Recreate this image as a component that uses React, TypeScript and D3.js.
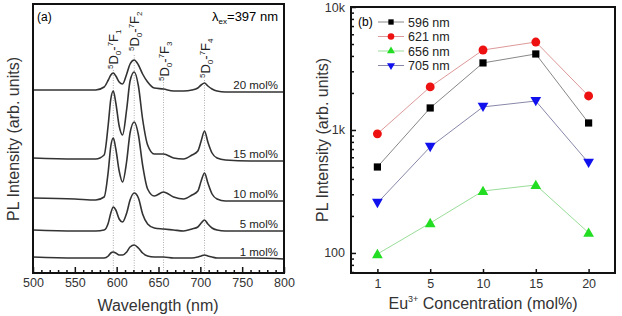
import React, { useRef, useEffect } from 'react';
import * as d3 from 'd3';

// panel (a): emission spectra, sampled along a common wavelength grid
const wavelengths = [500, 550, 575, 585, 590, 593, 596, 599, 603, 607, 612, 616, 621, 626, 631, 637, 645, 656, 668, 680, 690, 697, 701, 705, 709, 714, 720, 730, 760, 800];
const spec1 = [1, 0, 0, 0, 2, 5, 6, 5, 3, 3, 6, 11, 13, 10, 5, 2, 1, 1, 0, 0, 0, 1, 2, 3, 2, 1, 0, 0, 0, -1];
const spec5 = [1, 0, 0, 1, 8, 18, 24, 21, 12, 9, 18, 31, 38, 33, 17, 7, 3, 2, 1, 0, 2, 4, 8, 11, 7, 3, 1, 0, 0, 0];
const spec10 = [3, 2, 1, 4, 30, 55, 63, 52, 30, 19, 40, 68, 79, 66, 36, 12, 5, 9, 4, 2, 6, 10, 20, 28, 18, 7, 2, 0, 0, 0];
const spec15 = [1, 0, 0, 4, 35, 60, 68, 56, 33, 24, 50, 78, 87, 73, 40, 14, 5, 5, 1, 0, 4, 8, 18, 28, 17, 6, 1, -1, -2, -2];
const spec20 = [1, 1, 1, 4, 11, 16, 18, 15, 9, 7, 17, 27, 31, 26, 17, 9, 3, 2, 0, 0, 1, 3, 6, 8, 5, 2, 0, -1, -1, -1];
const specLabels = ['1 mol%', '5 mol%', '10 mol%', '15 mol%', '20 mol%'];
const specOffsets = [15, 42, 72, 114, 182];
const transitions = [596, 621, 656, 705];
const transitionSub = ['1', '2', '3', '4'];

// panel (b): integrated intensities vs concentration
const concentrations = ['1', '5', '10', '15', '20'];
const i596 = [500, 1510, 3510, 4150, 1140];
const i621 = [930, 2240, 4470, 5190, 1890];
const i656 = [98, 175, 319, 357, 146];
const i705 = [255, 728, 1540, 1720, 540];
const seriesNames = ['596 nm', '621 nm', '656 nm', '705 nm'];

const FONT = "'Liberation Sans', Arial, sans-serif";

const App = () => {
  const ref = useRef<SVGSVGElement>(null);

  useEffect(() => {
    const svg = d3.select(ref.current);
    svg.selectAll('*').remove();
    svg.style('font-family', FONT);

    // ---------- panel (a) ----------
    const ax = d3.scaleLinear().domain([500, 800]).range([33, 284]);
    const ay = d3.scaleLinear().domain([0, 269]).range([273, 4]);
    const a = svg.append('g');

    // dotted guide lines
    const guideTop = [70, 55, 82, 80];
    transitions.forEach((t, i) => {
      a.append('line')
        .attr('x1', ax(t)).attr('x2', ax(t))
        .attr('y1', guideTop[i]).attr('y2', 273)
        .attr('stroke', '#999').attr('stroke-width', 0.8)
        .attr('stroke-dasharray', '1,1.5');
    });

    const specs = [spec1, spec5, spec10, spec15, spec20];
    specs.forEach((s, k) => {
      const line = d3.line<number>()
        .x((_, i) => ax(wavelengths[i]))
        .y((d) => ay(d + specOffsets[k]))
        .curve(d3.curveMonotoneX);
      a.append('path')
        .attr('d', line(s))
        .attr('fill', 'none')
        .attr('stroke', '#333')
        .attr('stroke-width', 1.6);
      a.append('text')
        .attr('x', 278)
        .attr('y', ay(specOffsets[k] + s[s.length - 1]) - 3)
        .attr('text-anchor', 'end')
        .style('font-size', '11.5px')
        .attr('fill', '#222')
        .text(specLabels[k]);
    });

    // transition labels (rotated)
    const labelBottom = [69, 51, 81, 78];
    transitions.forEach((t, i) => {
      const txt = a.append('text')
        .attr('transform', `translate(${ax(t) + 5},${labelBottom[i]}) rotate(-90)`)
        .style('font-size', '13px')
        .attr('fill', '#222');
      txt.append('tspan').style('font-size', '8px').attr('dy', -5).text('5');
      txt.append('tspan').attr('dy', 5).text('D');
      txt.append('tspan').style('font-size', '8px').attr('dy', 3).text('0');
      txt.append('tspan').attr('dy', -3).text('-');
      txt.append('tspan').style('font-size', '8px').attr('dy', -5).text('7');
      txt.append('tspan').attr('dy', 5).text('F');
      txt.append('tspan').style('font-size', '8px').attr('dy', 3).text(transitionSub[i]);
    });

    // axes
    const aMajor = d3.axisBottom(ax).tickValues(d3.range(500, 801, 50)).tickSize(-6).tickPadding(5);
    const aMinor = d3.axisBottom(ax).tickValues(d3.range(510, 800, 10).filter((v) => v % 50 !== 0)).tickSize(-3).tickFormat(() => '');
    const gMinor = a.append('g').attr('transform', 'translate(0,273)').call(aMinor);
    const gMajor = a.append('g').attr('transform', 'translate(0,273)').call(aMajor);
    [gMinor, gMajor].forEach((g) => {
      g.select('.domain').remove();
      g.selectAll('line').attr('stroke', '#111').attr('stroke-width', 1.5);
    });
    gMajor.selectAll('text').style('font-size', '12.5px').style('font-family', FONT).attr('fill', '#333');

    a.append('rect')
      .attr('x', 33).attr('y', 4).attr('width', 251).attr('height', 269)
      .attr('fill', 'none').attr('stroke', '#111').attr('stroke-width', 2);

    a.append('text').attr('x', 37).attr('y', 21).style('font-size', '12px').text('(a)');
    const lam = a.append('text').attr('x', 278).attr('y', 21).attr('text-anchor', 'end').style('font-size', '13px');
    lam.append('tspan').text('λ');
    lam.append('tspan').style('font-size', '8px').attr('dy', 3).text('ex');
    lam.append('tspan').attr('dy', -3).text('=397 nm');

    a.append('text')
      .attr('x', 158).attr('y', 311)
      .attr('text-anchor', 'middle')
      .style('font-size', '16px').attr('fill', '#333')
      .text('Wavelength (nm)');
    a.append('text')
      .attr('transform', 'translate(19,139) rotate(-90)')
      .attr('text-anchor', 'middle')
      .style('font-size', '16px').attr('fill', '#333')
      .text('PL Intensity (arb. units)');

    // ---------- panel (b) ----------
    const bx = d3.scalePoint().domain(concentrations).range([351, 615]).padding(0.5);
    const by = d3.scaleLog().domain([68.7, 10000]).range([273, 7]);
    const b = svg.append('g');

    const series = [i596, i621, i656, i705];
    const lineColors = ['#888', '#d99', '#9d9', '#88a'];
    const markColors = ['#000', '#ee1111', '#22dd22', '#1111ee'];
    const symbols = [d3.symbolSquare, d3.symbolCircle, d3.symbolTriangle, d3.symbolTriangle];
    const sizes = [52, 62, 50, 50];

    series.forEach((s, k) => {
      const line = d3.line<number>()
        .x((_, i) => bx(concentrations[i]) as number)
        .y((d) => by(d));
      b.append('path').attr('d', line(s)).attr('fill', 'none')
        .attr('stroke', lineColors[k]).attr('stroke-width', 1);
      b.selectAll(null).data(s).enter().append('path')
        .attr('d', d3.symbol().type(symbols[k]).size(sizes[k])())
        .attr('transform', (d, i) => `translate(${bx(concentrations[i])},${by(d) + (k === 2 ? 1 : k === 3 ? -1 : 0)})${k === 3 ? ' rotate(180)' : ''}`)
        .attr('fill', markColors[k]);
    });

    const bMajor = d3.axisLeft(by).tickValues([100, 1000, 10000])
      .tickFormat((d) => (d === 100 ? '100' : d === 1000 ? '1k' : '10k'))
      .tickSize(-5).tickPadding(6);
    const minorVals = [70, 80, 90, 200, 300, 400, 500, 600, 700, 800, 900, 2000, 3000, 4000, 5000, 6000, 7000, 8000, 9000];
    const bMinor = d3.axisLeft(by).tickValues(minorVals).tickSize(-3).tickFormat(() => '');
    const gbMinor = b.append('g').attr('transform', 'translate(351,0)').call(bMinor);
    const gbMajor = b.append('g').attr('transform', 'translate(351,0)').call(bMajor);
    const gbX = b.append('g').attr('transform', 'translate(0,273)')
      .call(d3.axisBottom(bx).tickSize(-4).tickPadding(6));
    [gbMinor, gbMajor, gbX].forEach((g) => {
      g.select('.domain').remove();
      g.selectAll('line').attr('stroke', '#111').attr('stroke-width', 1.5);
      g.selectAll('text').style('font-size', '12.5px').style('font-family', FONT).attr('fill', '#333');
    });

    b.append('rect')
      .attr('x', 351).attr('y', 7).attr('width', 264).attr('height', 266)
      .attr('fill', 'none').attr('stroke', '#111').attr('stroke-width', 2);

    // legend
    b.append('text').attr('x', 358).attr('y', 26).style('font-size', '12px').text('(b)');
    seriesNames.forEach((name, k) => {
      const ly = 22 + k * 14.5;
      b.append('line').attr('x1', 378).attr('x2', 404).attr('y1', ly).attr('y2', ly)
        .attr('stroke', lineColors[k]).attr('stroke-width', 1);
      b.append('path')
        .attr('d', d3.symbol().type(symbols[k]).size(sizes[k] * 0.55)())
        .attr('transform', `translate(391,${ly})${k === 3 ? ' rotate(180)' : ''}`)
        .attr('fill', markColors[k]);
      b.append('text').attr('x', 408).attr('y', ly + 4.5)
        .style('font-size', '12.5px').attr('fill', '#222').text(name);
    });

    const xl = b.append('text').attr('x', 483).attr('y', 309)
      .attr('text-anchor', 'middle').style('font-size', '16px').attr('fill', '#333');
    xl.append('tspan').text('Eu');
    xl.append('tspan').style('font-size', '9px').attr('dy', -7).text('3+');
    xl.append('tspan').attr('dy', 7).text(' Concentration (mol%)');

    b.append('text')
      .attr('transform', 'translate(328,140) rotate(-90)')
      .attr('text-anchor', 'middle')
      .style('font-size', '16px').attr('fill', '#333')
      .text('PL Intensity (arb. units)');
  }, []);

  return (
    <svg
      ref={ref}
      width={622}
      height={316}
      style={{ position: 'absolute', left: 0, top: 0, background: '#fff' }}
    />
  );
};

export default App;
